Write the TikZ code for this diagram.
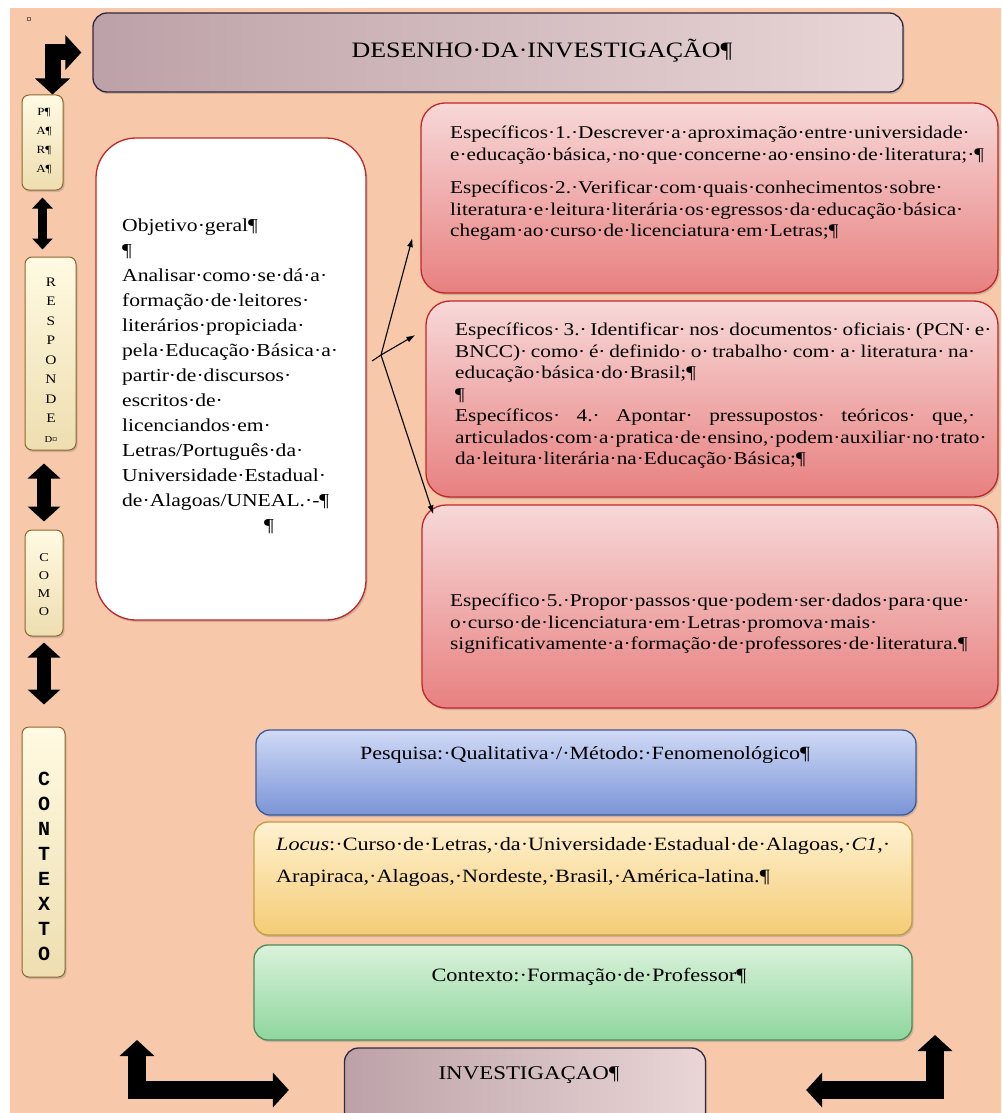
\documentclass[tikz,border=0pt]{standalone}
\usepackage{fontspec}
\setmainfont[FakeStretch=1.18]{Liberation Serif}
\setmonofont{Liberation Mono}
\usetikzlibrary{arrows.meta,shadows}

\definecolor{peach}{RGB}{247,201,170}
\definecolor{espline}{RGB}{190,40,40}
\definecolor{esptop}{RGB}{247,216,216}
\definecolor{espbot}{RGB}{232,128,128}
\definecolor{mauvedark}{RGB}{188,162,168}
\definecolor{mauvelight}{RGB}{234,214,214}
\definecolor{mauveline}{RGB}{50,40,62}
\definecolor{pesqtop}{RGB}{208,218,246}
\definecolor{pesqbot}{RGB}{122,148,214}
\definecolor{pesqline}{RGB}{60,90,150}
\definecolor{locustop}{RGB}{255,241,208}
\definecolor{locusbot}{RGB}{244,204,118}
\definecolor{locusline}{RGB}{196,156,66}
\definecolor{ctxtop}{RGB}{218,242,218}
\definecolor{ctxbot}{RGB}{142,214,158}
\definecolor{ctxline}{RGB}{78,138,88}
\definecolor{sidetop}{RGB}{255,250,226}
\definecolor{sidebot}{RGB}{238,222,176}
\definecolor{sideline}{RGB}{140,104,44}

\newcommand{\jline}[1]{\makebox[520pt][s]{#1}}

\tikzset{
  box/.style={draw, line width=1.3pt, inner sep=0pt,
    drop shadow={shadow xshift=1.5pt, shadow yshift=-2pt, opacity=0.35}},
  espbox/.style={box, rounded corners=24pt, draw=espline, top color=esptop, bottom color=espbot},
  mauvebox/.style={box, rounded corners=14pt, draw=mauveline, left color=mauvedark, right color=mauvelight},
  objbox/.style={box, rounded corners=40pt, draw=espline, fill=white},
  pesqbox/.style={box, rounded corners=14pt, draw=pesqline, top color=pesqtop, bottom color=pesqbot},
  locusbox/.style={box, rounded corners=14pt, draw=locusline, top color=locustop, bottom color=locusbot},
  ctxbox/.style={box, rounded corners=14pt, draw=ctxline, top color=ctxtop, bottom color=ctxbot},
  sidebox/.style={box, line width=1pt, rounded corners=7pt, draw=sideline, top color=sidetop, bottom color=sidebot},
  txt/.style={inner sep=0pt, align=left, font=\fontsize{18}{21.5}\selectfont},
  sidetxt/.style={inner sep=0pt, align=center},
  midarrow/.style={line width=9pt, {Triangle[length=11pt,width=20pt]}-{Triangle[length=11pt,width=20pt]}},
  bigarrow/.style={line width=14pt, {Triangle[length=15pt,width=32pt]}-{Triangle[length=15pt,width=32pt]}},
  bendarrow/.style={line width=16pt, {Triangle[length=16pt,width=34pt]}-{Triangle[length=16pt,width=34pt]}},
  thinarrow/.style={line width=1.1pt, -{Latex[length=9pt,width=6pt]}}
}

\begin{document}
\begin{tikzpicture}[x=1pt,y=-1pt]
\useasboundingbox (0,0) rectangle (1001,1113);
\fill[peach] (10,8) rectangle (1001,1113);
\node[font=\fontsize{9}{9}\selectfont] (mark) at (29,20) {¤};

% cabecalho
\node[mauvebox, minimum width=810pt, minimum height=79pt] (title) at (498,52.5) {};
\node[font=\fontsize{22}{24}\selectfont] (titletxt) at (542,51) {DESENHO·DA·INVESTIGAÇÃO¶};

% coluna da esquerda
\node[sidebox, minimum width=41pt, minimum height=95pt] (para) at (42.5,142.5) {};
\node[sidetxt, font=\fontsize{11}{19}\selectfont] (paratxt) at (44,141) {P¶\\A¶\\R¶\\A¶};
\node[sidebox, minimum width=51pt, minimum height=193pt] (resp) at (50.5,353.5) {};
\node[sidetxt, font=\fontsize{13}{19.5}\selectfont] (resptxt) at (51,360) {R\\E\\S\\P\\O\\N\\D\\E\\{\fontsize{9}{9}\selectfont D¤}};
\node[sidebox, minimum width=38pt, minimum height=106pt] (como) at (44,583) {};
\node[sidetxt, font=\fontsize{12}{18}\selectfont] (comotxt) at (44,585) {C\\O\\M\\O};
\node[sidebox, minimum width=43pt, minimum height=250pt] (contexto) at (43.5,852) {};
\node[sidetxt, font=\fontsize{20}{25}\ttfamily\bfseries] (contextotxt) at (44,866) {C\\O\\N\\T\\E\\X\\T\\O};

\draw[bendarrow, shorten >=11pt] ([xshift=10pt]para.north) |- (title.west);
\draw[midarrow, shorten <=7pt, shorten >=7pt] (para.south) -- (para.south |- resp.north);
\draw[bigarrow, shorten <=13pt, shorten >=8pt] (como.north |- resp.south) -- (como.north);
\draw[bigarrow, shorten <=6pt, shorten >=22pt] (como.south) -- (como.south |- contexto.north);

% objetivo geral
\node[objbox, minimum width=270pt, minimum height=482pt] (obj) at (231,379) {};
\node[txt, anchor=north west, font=\fontsize{18.3}{25}\selectfont] (objtxt) at (122,219) {%
Objetivo·geral¶\\
¶\\
Analisar·como·se·dá·a·\\
formação·de·leitores·\\
literários·propiciada·\\
pela·Educação·Básica·a·\\
partir·de·discursos·\\
escritos·de·\\
licenciandos·em·\\
Letras/Português·da·\\
Universidade·Estadual·\\
de·Alagoas/UNEAL.·-¶\\
\hspace*{142pt}¶};

% objetivos especificos
\node[espbox, minimum width=577pt, minimum height=190pt] (esp12) at (709.5,198) {};
\node[txt, anchor=north west] (esp12txt) at (450,126) {%
Específicos·1.·Descrever·a·aproximação·entre·universidade·\\
e·educação·básica,·no·que·concerne·ao·ensino·de·literatura;·¶\\[12pt]
Específicos·2.·Verificar·com·quais·conhecimentos·sobre·\\
literatura·e·leitura·literária·os·egressos·da·educação·básica·\\
chegam·ao·curso·de·licenciatura·em·Letras;¶};

\node[espbox, minimum width=572pt, minimum height=196pt] (esp34) at (712,399) {};
\node[txt, anchor=north west] (esp34txt) at (455,323) {%
\jline{Específicos· 3.· Identificar· nos· documentos· oficiais· (PCN· e·}\\
\jline{BNCC)· como· é· definido· o· trabalho· com· a· literatura· na·}\\
educação·básica·do·Brasil;¶\\
¶\\
\jline{Específicos· 4.· Apontar· pressupostos· teóricos· que,·}\\
\jline{articulados·com·a·pratica·de·ensino,·podem·auxiliar·no·trato·}\\
da·leitura·literária·na·Educação·Básica;¶};

\node[espbox, minimum width=576pt, minimum height=203pt] (esp5) at (710,606.5) {};
\node[txt, anchor=north west] (esp5txt) at (450,594) {%
Específico·5.·Propor·passos·que·podem·ser·dados·para·que·\\
o·curso·de·licenciatura·em·Letras·promova·mais·\\
significativamente·a·formação·de·professores·de·literatura.¶};

\coordinate (tail) at (372,361);
\coordinate (fork) at (381,355);
\draw[line width=1.1pt] (tail) -- (fork);
\draw[thinarrow] (fork) -- ([shift={(-8,40)}]esp12.west);
\draw[thinarrow] (fork) -- ([shift={(-10,-64)}]esp34.west);
\draw[thinarrow] (fork) -- ([shift={(12,10)}]esp5.north west);

% metodologia
\node[pesqbox, minimum width=660pt, minimum height=85pt] (pesq) at (586,772.5) {};
\node[txt, font=\fontsize{18.7}{22}\selectfont] (pesqtxt) at (585,755) {Pesquisa:·Qualitativa·/·Método:·Fenomenológico¶};
\node[locusbox, minimum width=658pt, minimum height=113pt] (locus) at (583,878.5) {};
\node[txt, anchor=north west, font=\fontsize{18.8}{32}\selectfont] (locustxt) at (276,837) {%
\textit{Locus}:·Curso·de·Letras,·da·Universidade·Estadual·de·Alagoas,·\textit{C1},·\\
Arapiraca,·Alagoas,·Nordeste,·Brasil,·América-latina.¶};
\node[ctxbox, minimum width=658pt, minimum height=95pt] (ctx) at (583,992.5) {};
\node[txt, font=\fontsize{18.9}{22}\selectfont] (ctxtxt) at (589,977) {Contexto:·Formação·de·Professor¶};

% rodape
\node[mauvebox, minimum width=361pt, minimum height=84pt] (invest) at (525,1090) {};
\node[txt, font=\fontsize{19.4}{22}\selectfont] (investtxt) at (529,1075) {INVESTIGAÇAO¶};
\coordinate (blTip) at (137,1040);
\coordinate (brTip) at (935,1035);
\draw[bendarrow, line width=18pt, shorten >=55pt] (blTip) |- (invest.west);
\draw[bendarrow, line width=18pt, shorten >=100pt] (brTip) |- (invest.east);
\end{tikzpicture}
\end{document}
